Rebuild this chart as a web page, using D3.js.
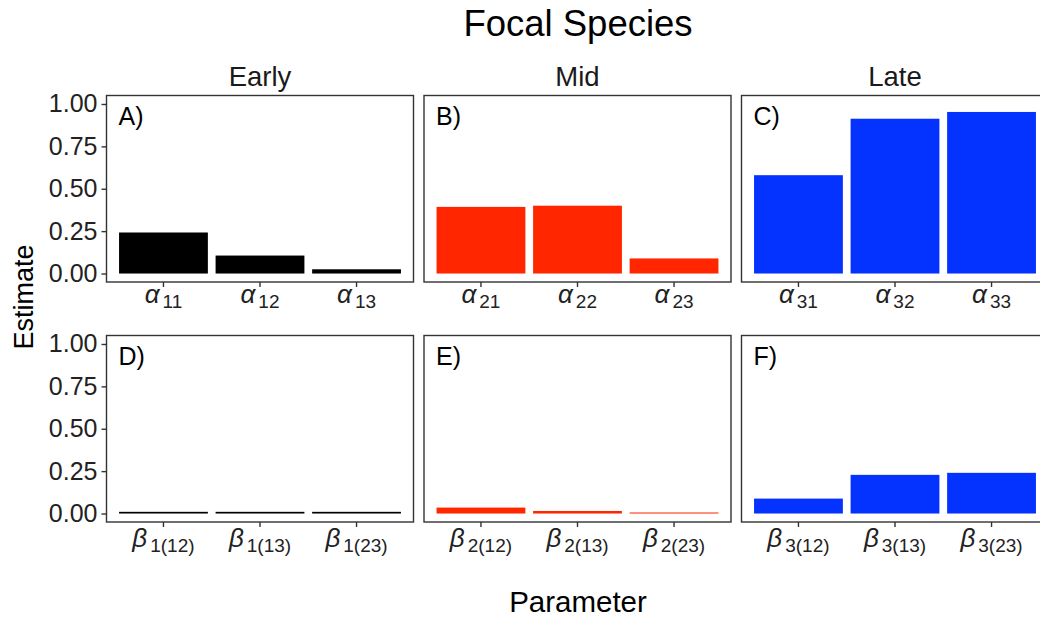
<!DOCTYPE html>
<html>
<head>
<meta charset="utf-8">
<script src="https://cdn.jsdelivr.net/npm/d3@7"></script>
<style>
  body { margin: 0; background: #fff; }
  svg { display: block; font-family: "Liberation Sans", Arial, sans-serif; overflow: hidden; }
</style>
</head>
<body>
<svg id="chart" width="1040" height="622"></svg>
<script>
'use strict';

// facet columns
var stages = ["Early", "Mid", "Late"];
var stageColors = ["#000000", "#ff2600", "#0433ff"];
var panelTags = [["A)", "B)", "C)"], ["D)", "E)", "F)"]];

// top row: alpha parameters
var alphaSubs = [["11", "12", "13"], ["21", "22", "23"], ["31", "32", "33"]];
var alphaValues = [[0.242, 0.106, 0.025], [0.393, 0.400, 0.089], [0.580, 0.913, 0.953]];

// bottom row: beta parameters
var betaSubs = [["1(12)", "1(13)", "1(23)"], ["2(12)", "2(13)", "2(23)"], ["3(12)", "3(13)", "3(23)"]];
var betaValues = [[0.01, 0.01, 0.01], [0.035, 0.015, 0.006], [0.088, 0.228, 0.240]];

var yTicks = [0, 0.25, 0.5, 0.75, 1.0];

var svg = d3.select("#chart");

var panelW = 307, panelH = 186.5;
var colX = [106.5, 424, 741.5];
var rowY = [95.5, 335.5];

var rows = [
  { greek: "\u03b1", subs: alphaSubs, values: alphaValues, labelDy: 21 },
  { greek: "\u03b2", subs: betaSubs, values: betaValues, labelDy: 25 }
];

var y = d3.scaleLinear().domain([-0.05, 1.05]).range([panelH, 0]);

rows.forEach(function (row, r) {
  stages.forEach(function (stage, c) {
    var g = svg.append("g").attr("transform", "translate(" + colX[c] + "," + rowY[r] + ")");
    var cats = row.subs[c];
    var x = d3.scaleBand().domain(cats).range([0, panelW])
      .paddingInner(0.08).paddingOuter(0.13);

    g.selectAll("rect.bar")
      .data(cats)
      .enter().append("rect")
        .attr("class", "bar")
        .attr("x", function (d) { return x(d); })
        .attr("width", x.bandwidth())
        .attr("y", function (d, i) { return y(row.values[c][i]); })
        .attr("height", function (d, i) { return y(0) - y(row.values[c][i]); })
        .attr("fill", stageColors[c]);

    // panel border
    g.append("rect")
      .attr("width", panelW).attr("height", panelH)
      .attr("fill", "none").attr("stroke", "#333").attr("stroke-width", 1.4);

    g.append("text")
      .attr("x", 12).attr("y", 29)
      .attr("font-size", 25).attr("fill", "#000")
      .text(panelTags[r][c]);

    // x axis with greek + subscript labels
    var xa = g.append("g").attr("transform", "translate(0," + panelH + ")")
      .call(d3.axisBottom(x).tickSize(5).tickSizeOuter(0).tickFormat(""));
    xa.select(".domain").remove();
    xa.selectAll("line").attr("stroke", "#333").attr("stroke-width", 1.4);
    xa.selectAll("text").remove();
    xa.selectAll(".tick").append("text")
      .attr("y", row.labelDy)
      .attr("text-anchor", "middle")
      .attr("fill", "#222")
      .each(function (d) {
        var t = d3.select(this);
        t.append("tspan").attr("font-size", 26).attr("font-style", "italic").text(row.greek);
        t.append("tspan").attr("font-size", 19).attr("dx", 3).attr("dy", 5).text(d);
      });

    if (c === 0) {
      var ya = g.append("g")
        .call(d3.axisLeft(y).tickValues(yTicks).tickFormat(d3.format(".2f")).tickSize(5).tickPadding(4).tickSizeOuter(0));
      ya.select(".domain").remove();
      ya.selectAll("line").attr("stroke", "#333").attr("stroke-width", 1.4);
      ya.selectAll("text").attr("font-size", 25).attr("fill", "#222")
        .attr("font-family", "Liberation Sans, Arial, sans-serif");
    }

    if (r === 0) {
      svg.append("text")
        .attr("x", colX[c] + panelW / 2).attr("y", 86)
        .attr("text-anchor", "middle").attr("font-size", 27.5).attr("fill", "#1a1a1a")
        .text(stage);
    }
  });
});

svg.append("text")
  .attr("x", 578).attr("y", 36)
  .attr("text-anchor", "middle").attr("font-size", 36.5).attr("fill", "#000")
  .text("Focal Species");

svg.append("text")
  .attr("x", 578).attr("y", 612)
  .attr("text-anchor", "middle").attr("font-size", 29.5).attr("fill", "#000")
  .text("Parameter");

svg.append("text")
  .attr("transform", "translate(33,297) rotate(-90)")
  .attr("text-anchor", "middle").attr("font-size", 27).attr("fill", "#000")
  .text("Estimate");
</script>
</body>
</html>
